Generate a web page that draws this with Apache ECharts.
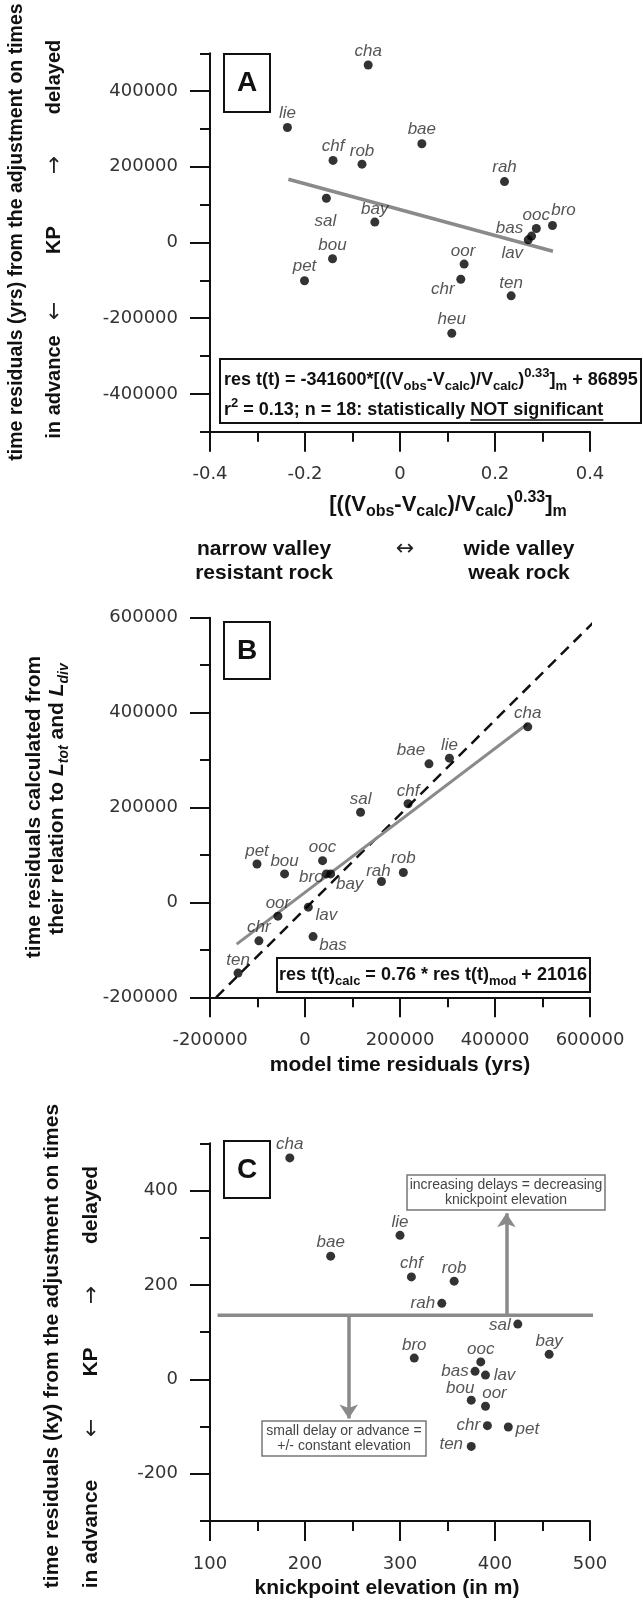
<!DOCTYPE html>
<html>
<head>
<meta charset="utf-8">
<script src="https://cdn.jsdelivr.net/npm/echarts@6.0.0/dist/echarts.min.js"></script>
<style>
  html, body { margin: 0; padding: 0; background: #fff; }
  #chart { width: 643px; height: 1602px; }
</style>
</head>
<body>
<div id="chart"></div>
<script>
// ---- panel A : valley width residual vs model time residual
const namesA = ['cha', 'lie', 'bae', 'chf', 'rob', 'rah', 'sal', 'bay', 'ooc', 'bro', 'bas', 'lav', 'bou', 'pet', 'oor', 'chr', 'ten', 'heu'];
const valleyA = [-0.067, -0.237, 0.046, -0.141, -0.080, 0.220, -0.155, -0.053, 0.287, 0.321, 0.277, 0.270, -0.142, -0.201, 0.135, 0.128, 0.234, 0.109];
const timeResA = [469000, 304000, 261000, 217000, 207000, 161000, 117000, 54000, 37000, 45000, 17000, 7000, -43000, -101000, -57000, -97000, -141000, -240000];
const fitAx = [-0.235, 0.322];
const fitAy = [167000, -23000];

// ---- panel B : calculated vs model time residuals
const namesB = ['cha', 'bae', 'lie', 'chf', 'sal', 'pet', 'bou', 'ooc', 'bro', 'bay', 'rah', 'rob', 'oor', 'lav', 'chr', 'bas', 'ten'];
const modelResB = [469000, 261000, 304000, 217000, 117000, -101000, -43000, 37000, 45000, 54000, 161000, 207000, -57000, 7000, -97000, 17000, -141000];
const calcResB = [370000, 292000, 304000, 208000, 190000, 81000, 60000, 88000, 60000, 60000, 44000, 63000, -29000, -10000, -81000, -72000, -149000];
const fitBx = [-143800, 468000];
const fitBy = [-88000, 376000];
const unityBx = [-187000, 617000];
const unityBy = [-200000, 600000];

// ---- panel C : time residuals vs knickpoint elevation
const namesC = ['cha', 'bae', 'lie', 'chf', 'rob', 'rah', 'sal', 'bro', 'ooc', 'bay', 'bas', 'lav', 'bou', 'oor', 'chr', 'pet', 'ten'];
const elevC = [184, 227, 300, 312, 357, 344, 424, 315, 385, 457, 379, 390, 375, 390, 392, 414, 375];
const timeResC = [469, 261, 305, 217, 208, 161, 117, 45, 37, 53, 17, 9, -44, -57, -98, -101, -142];
const splitCx = [108, 504];
const splitCy = [136, 136];
const arrowUpC = [[412, 136], [412, 352]];
const arrowDownC = [[246, 136], [246, -83]];

// tick labels
const ticksAy = [-400000, -200000, 0, 200000, 400000];
const ticksCy = [-200, 0, 200, 400];

// label placement (px offset of label centre from the dot)
const shiftA = {
  cha: [0, -14], lie: [0, -14], bae: [0, -14], chf: [0, -14], rob: [0, -13], rah: [0, -14],
  sal: [-1, 23], bay: [0, -13], ooc: [0, -13], bro: [11, -15], bas: [-22, -8], lav: [-16, 13],
  bou: [0, -14], pet: [0, -14], oor: [-1, -13], chr: [-18, 10], ten: [0, -13], heu: [0, -14]
};
const shiftB = {
  cha: [0, -14], bae: [-18, -14], lie: [0, -13], chf: [0, -12], sal: [0, -13], pet: [0, -13],
  bou: [0, -13], ooc: [0, -13], bro: [-15, 3], bay: [19, 10], rah: [-3, -10], rob: [0, -14],
  oor: [0, -13], lav: [18, 8], chr: [0, -14], bas: [20, 9], ten: [0, -13]
};
const shiftC = {
  cha: [0, -14], bae: [0, -14], lie: [0, -13], chf: [0, -14], rob: [0, -13], rah: [-19, 0],
  sal: [-18, 1], bro: [0, -13], ooc: [0, -13], bay: [0, -13], bas: [-20, 0], lav: [19, 0],
  bou: [-11, -12], oor: [9, -13], chr: [-19, 0], pet: [19, 2], ten: [-20, -2]
};

const FONT = "'Liberation Sans', Arial, sans-serif";
const TICK_FONT = "'DejaVu Sans', sans-serif";
const INK = '#111';
const GREY = '#8a8a8a';

function points (names, xs, ys, shift) {
  return names.map((n, i) => ({
    name: n,
    value: [xs[i], ys[i]],
    label: { offset: shift[n] || [0, -14] }
  }));
}

function scatter (xi, yi, data) {
  return {
    type: 'scatter', xAxisIndex: xi, yAxisIndex: yi, data: data,
    symbolSize: 9, itemStyle: { color: '#000' }, z: 5,
    label: {
      show: true, position: 'inside', formatter: '{b}',
      fontFamily: FONT, fontStyle: 'italic', fontSize: 17, color: '#2a2a2a'
    }
  };
}

function segment (xi, yi, xs, ys, color, width, type) {
  return {
    type: 'line', xAxisIndex: xi, yAxisIndex: yi, clip: false, silent: true,
    symbol: 'none', data: xs.map((x, i) => [x, ys[i]]), z: 3,
    lineStyle: { color: color, width: width, type: type || 'solid' }
  };
}

function axisBase (gridIndex, min, max, interval) {
  return {
    type: 'value', gridIndex: gridIndex, min: min, max: max, interval: interval,
    axisLine: { show: true, onZero: false, lineStyle: { color: INK, width: 2 } },
    axisTick: { show: true, inside: false, length: 20, lineStyle: { color: INK, width: 2 } },
    minorTick: { show: true, splitNumber: 2, length: 10, lineStyle: { color: INK, width: 2 } },
    splitLine: { show: false },
    minorSplitLine: { show: false },
    axisLabel: { color: '#333', fontFamily: TICK_FONT, fontSize: 18, margin: 34, formatter: v => String(v) }
  };
}

// y axis with short ticks every step and long ticks + labels at the given values
function yAxisPair (gridIndex, min, max, step, labelled) {
  const main = axisBase(gridIndex, min, max, step);
  main.position = 'left';
  main.axisTick.length = 10;
  main.minorTick = { show: false };
  main.axisLabel.margin = 32;
  main.axisLabel.formatter = v => (labelled.indexOf(v) >= 0 ? String(v) : '');
  const major = {
    type: 'value', gridIndex: gridIndex, min: min, max: max, interval: step,
    position: 'left', offset: 0,
    axisLine: { show: false, onZero: false },
    axisTick: { show: true, inside: false, length: 20, customValues: labelled, lineStyle: { color: INK, width: 2 } },
    axisLabel: { show: false },
    splitLine: { show: false }
  };
  return [main, major];
}

const xA = axisBase(0, -0.4, 0.4, 0.2);
xA.axisLabel.formatter = v => (Math.abs(v) < 1e-9 ? '0' : v.toFixed(1));
const xB = axisBase(1, -200000, 600000, 200000);
const xC = axisBase(2, 100, 500, 100);
const yB = axisBase(1, -200000, 600000, 200000);
yB.axisLabel.margin = 32;
const [yA, yA2] = yAxisPair(0, -500000, 500000, 100000, ticksAy);
const [yC, yC2] = yAxisPair(2, -300, 500, 100, ticksCy);

// ---- text and boxes
const G = [];
function rect (x, y, w, h, stroke, lw) {
  G.push({ type: 'rect', z: 50, shape: { x: x, y: y, width: w, height: h },
    style: { fill: '#fff', stroke: stroke, lineWidth: lw } });
}
function text (x, y, str, s, rot) {
  G.push({ type: 'text', x: x, y: y, rotation: rot || 0, z: 60,
    style: Object.assign({ text: str, fill: INK, fontFamily: FONT, fontSize: 20, fontWeight: 'bold',
      align: 'center', verticalAlign: 'middle', textAlign: 'center', textVerticalAlign: 'middle' }, s) });
}
function rich (size, sub) {
  const t = { fontFamily: FONT, fontWeight: 'bold', fill: INK, color: INK };
  return {
    sub: Object.assign({ fontSize: sub, verticalAlign: 'bottom' }, t),
    sup: Object.assign({ fontSize: sub, verticalAlign: 'top' }, t),
    it: Object.assign({ fontSize: size, fontStyle: 'italic' }, t),
    isub: Object.assign({ fontSize: sub, fontStyle: 'italic', verticalAlign: 'bottom' }, t)
  };
}
const R90 = Math.PI / 2;
const ARROW = { fontWeight: 'normal', fontSize: 22, fontFamily: TICK_FONT, fill: '#222' };

// panel A
text(17, 232, 'time residuals (yrs) from the adjustment on times', { fontSize: 19.5 }, R90);
text(54, 77, 'delayed', {}, R90);
text(54, 167, '↑', ARROW);
text(54, 240, 'KP', {}, R90);
text(54, 313, '↓', ARROW);
text(54, 387, 'in advance', {}, R90);
rect(224, 54, 46, 58, INK, 2);
text(247, 83, 'A', { fontSize: 28 });
rect(220, 359, 421, 64, INK, 2);
text(224, 380, 'res t(t) = -341600*[((V{sub|obs}-V{sub|calc})/V{sub|calc}){sup|0.33}]{sub|m} + 86895',
  { fontSize: 18, lineHeight: 26, align: 'left', textAlign: 'left', rich: rich(18, 13) });
text(224, 410, 'r{sup|2} = 0.13; n = 18: statistically NOT significant',
  { fontSize: 18, lineHeight: 26, align: 'left', textAlign: 'left', rich: rich(18, 13) });
const ctx = document.createElement('canvas').getContext('2d');
function tw (s, size) {
  ctx.font = 'bold ' + size + 'px ' + FONT;
  return ctx.measureText(s).width;
}
const ulX = 224 + tw('r', 18) + tw('2', 13) + tw(' = 0.13; n = 18: statistically ', 18);
G.push({ type: 'line', z: 60, shape: { x1: ulX, y1: 420, x2: ulX + tw('NOT significant', 18), y2: 420 },
  style: { stroke: INK, lineWidth: 1.5 } });
text(448, 505, '[((V{sub|obs}-V{sub|calc})/V{sub|calc}){sup|0.33}]{sub|m}',
  { fontSize: 22, lineHeight: 30, rich: rich(22, 16) });
text(264, 549, 'narrow valley', { fontSize: 21 });
text(264, 573, 'resistant rock', { fontSize: 21 });
text(405, 549, '↔', ARROW);
text(519, 549, 'wide valley', { fontSize: 21 });
text(519, 573, 'weak rock', { fontSize: 21 });

// panel B
text(34, 807, 'time residuals calculated from', { fontSize: 21 }, R90);
text(57, 799, 'their relation to {it|L}{isub|tot} and {it|L}{isub|div}',
  { fontSize: 21, lineHeight: 28, rich: rich(21, 14) }, R90);
rect(224, 622, 46, 57, INK, 2);
text(247, 651, 'B', { fontSize: 28 });
rect(277, 958, 313, 34, INK, 2);
text(433, 975, 'res t(t){sub|calc} = 0.76 * res t(t){sub|mod} + 21016',
  { fontSize: 18, lineHeight: 26, rich: rich(18, 13) });
text(400, 1065, 'model time residuals (yrs)', { fontSize: 21 });

// panel C
text(52, 1346, 'time residuals (ky) from the adjustment on times', { fontSize: 21 }, R90);
text(91, 1205, 'delayed', { fontSize: 21 }, R90);
text(91, 1297, '↑', ARROW);
text(91, 1362, 'KP', { fontSize: 21 }, R90);
text(91, 1430, '↓', ARROW);
text(91, 1534, 'in advance', { fontSize: 21 }, R90);
rect(224, 1141, 46, 57, INK, 2);
text(247, 1170, 'C', { fontSize: 28 });
rect(407, 1175, 198, 35, '#777', 1.5);
text(506, 1185.5, 'increasing delays = decreasing', { fontSize: 14, fontWeight: 'normal', fill: '#444' });
text(506, 1200.5, 'knickpoint elevation', { fontSize: 14, fontWeight: 'normal', fill: '#444' });
rect(262, 1421, 164, 35, '#777', 1.5);
text(344, 1431, 'small delay or advance =', { fontSize: 14, fontWeight: 'normal', fill: '#444' });
text(344, 1446, '+/- constant elevation', { fontSize: 14, fontWeight: 'normal', fill: '#444' });
text(387, 1588, 'knickpoint elevation (in m)', { fontSize: 21 });

const option = {
  animation: false,
  backgroundColor: '#fff',
  grid: [
    { left: 210, top: 53.3, width: 380, height: 378.4 },
    { left: 210, top: 617.7, width: 380, height: 379.6 },
    { left: 210, top: 1143.3, width: 380, height: 377.7 }
  ],
  xAxis: [xA, xB, xC],
  yAxis: [yA, yA2, yB, yC, yC2],
  graphic: G,
  series: [
    segment(0, 0, fitAx, fitAy, GREY, 3.5),
    scatter(0, 0, points(namesA, valleyA, timeResA, shiftA)),
    segment(1, 2, unityBx, unityBy, INK, 2.5, [11, 7]),
    segment(1, 2, fitBx, fitBy, GREY, 3),
    scatter(1, 2, points(namesB, modelResB, calcResB, shiftB)),
    segment(2, 3, splitCx, splitCy, GREY, 3.5),
    {
      type: 'lines', coordinateSystem: 'cartesian2d', xAxisIndex: 2, yAxisIndex: 3,
      symbol: ['none', 'arrow'], symbolSize: 14, silent: true, z: 3,
      lineStyle: { color: GREY, width: 3.5, opacity: 1 },
      data: [{ coords: arrowUpC }, { coords: arrowDownC }]
    },
    scatter(2, 3, points(namesC, elevC, timeResC, shiftC))
  ]
};

const chart = echarts.init(document.getElementById('chart'));
chart.setOption(option);
</script>
</body>
</html>
